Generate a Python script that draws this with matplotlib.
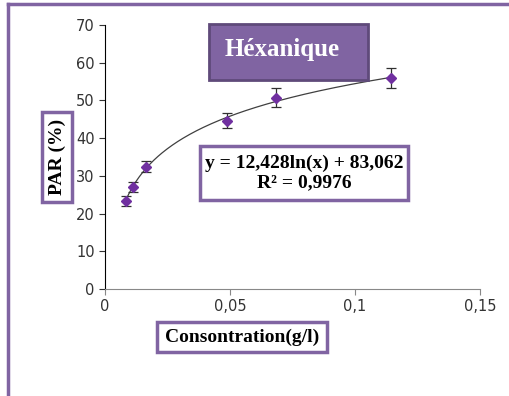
import numpy as np
import matplotlib.pyplot as plt
from matplotlib.patches import Rectangle
from matplotlib.lines import Line2D

conc = np.array([0.0084, 0.0111, 0.0164, 0.0489, 0.0684, 0.1143])
par = np.array([23.3, 27.1, 32.4, 44.6, 50.7, 56.0])
err = np.array([1.3, 1.4, 1.5, 2.0, 2.5, 2.7])
slope, intercept = 12.428, 83.062

purple = '#8064A2'
serif = 'Liberation Serif'

fig = plt.figure(figsize=(5.09, 3.96), dpi=100)
ax = fig.add_axes([0.2063, 0.2702, 0.7367, 0.6667])

# trend line
xs = np.linspace(conc.min(), conc.max(), 200)
ax.plot(xs, slope * np.log(xs) + intercept, color='#404040', lw=0.9)
ax.errorbar(conc, par, yerr=err, fmt='D', color='#7030A0', ms=5,
            ecolor='#303030', elinewidth=0.9, capsize=3.5, capthick=0.9)

ax.set_xlim(0, 0.15)
ax.set_ylim(0, 70)
ax.set_xticks([0, 0.05, 0.1, 0.15])
ax.set_xticklabels(['0', '0,05', '0,1', '0,15'])
ax.set_yticks(range(0, 71, 10))
ax.spines['top'].set_visible(False)
ax.spines['right'].set_visible(False)
ax.spines['bottom'].set_color('#888888')
ax.tick_params(labelsize=10.5, colors='#333333', length=4)
ax.tick_params(axis='x', colors='#888888', labelcolor='#333333')

def box(x0, y0, w, h, fc, ec, lw):
    fig.add_artist(Rectangle((x0, y0), w, h, fc=fc, ec=ec, lw=lw,
                             transform=fig.transFigure, zorder=5))

# title box
box(0.4106, 0.798, 0.3124, 0.1414, purple, '#5F4A7A', 2)
fig.text(0.554, 0.876, 'Héxanique', ha='center', va='center', color='white',
         fontsize=18, fontweight='bold', family=serif, zorder=6)

# equation box
box(0.393, 0.495, 0.4086, 0.1364, 'white', purple, 2.5)
fig.text(0.597, 0.563, 'y = 12,428ln(x) + 83,062\nR² = 0,9976', ha='center',
         va='center', fontsize=14, fontweight='bold', family=serif,
         linespacing=1.15, zorder=6)

# axis labels
box(0.0825, 0.4899, 0.0589, 0.2273, 'white', purple, 2.5)
fig.text(0.113, 0.6035, 'PAR (%)', rotation=90, ha='center', va='center',
         fontsize=14, fontweight='bold', family=serif, zorder=6)
box(0.3084, 0.1111, 0.334, 0.0758, 'white', purple, 2.5)
fig.text(0.4754, 0.148, 'Consontration(g/l)', ha='center', va='center',
         fontsize=14, fontweight='bold', family=serif, zorder=6)

# outer frame (top and left edges)
fig.add_artist(Line2D([0.016, 1.0], [0.99, 0.99], color=purple, lw=2.5,
                      transform=fig.transFigure))
fig.add_artist(Line2D([0.016, 0.016], [0.0, 0.99], color=purple, lw=2.5,
                      transform=fig.transFigure))

fig.savefig('out.png', dpi=100)
